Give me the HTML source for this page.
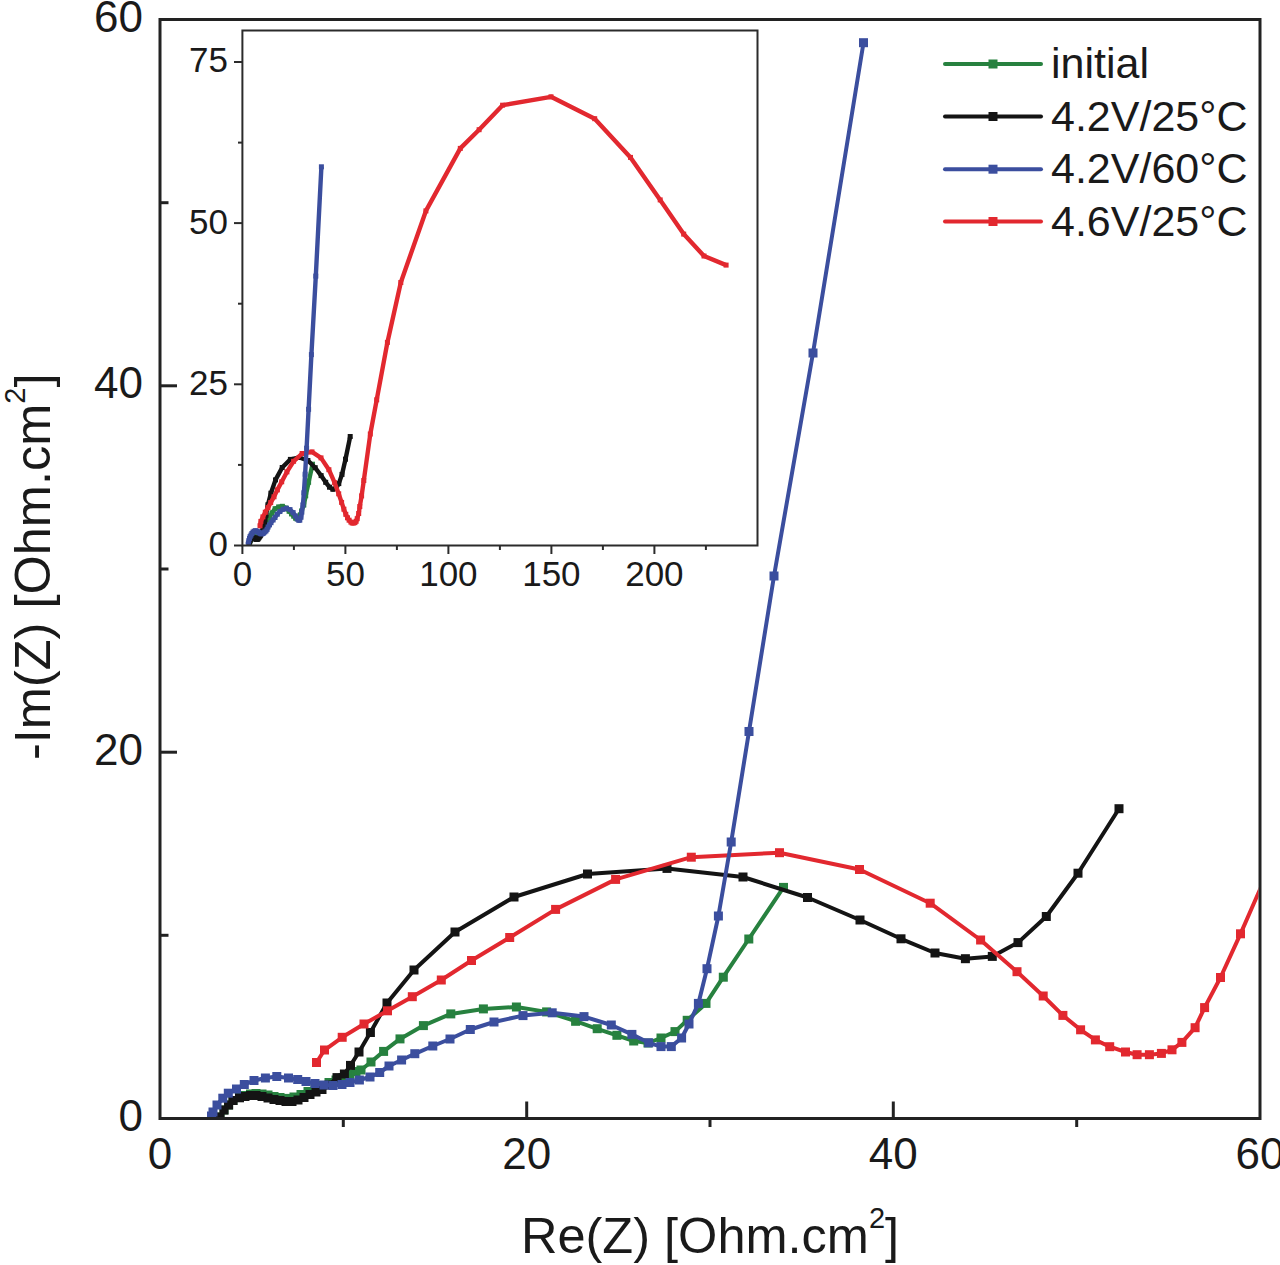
<!DOCTYPE html>
<html><head><meta charset="utf-8"><title>chart</title>
<style>html,body{margin:0;padding:0;background:#fff;width:1280px;height:1265px;overflow:hidden}svg{display:block}</style>
</head><body>
<svg width="1280" height="1265" viewBox="0 0 1280 1265">
<rect width="1280" height="1265" fill="#fff"/>
<defs>
<clipPath id="cm"><rect x="161.5" y="21" width="1097" height="1096"/></clipPath>
<clipPath id="ci"><rect x="243.4" y="31.5" width="513" height="513"/></clipPath>
</defs>
<g clip-path="url(#cm)"><g fill="#27813f"><polyline points="220.0,1117.0 224.0,1110.0 228.6,1105.0 233.0,1100.5 239.5,1097.5 245.0,1095.5 250.5,1094.0 256.0,1093.5 262.0,1094.0 268.0,1095.0 274.0,1096.5 280.0,1097.5 287.0,1098.4 294.0,1097.0 301.0,1094.5 308.0,1091.5 315.0,1088.5 322.0,1085.5 329.0,1082.5 336.0,1080.0 343.0,1077.5 350.0,1074.5 356.0,1071.5 361.0,1070.0 371.0,1062.0 383.6,1051.4 400.0,1038.9 423.4,1025.6 450.8,1013.9 483.4,1008.9 516.4,1007.0 546.6,1011.9 575.6,1021.2 597.2,1028.8 616.9,1035.3 633.8,1041.0 648.0,1043.0 661.0,1038.0 675.0,1031.6 687.2,1020.3 706.0,1003.4 723.2,977.2 748.8,939.0 783.5,887.4" fill="none" stroke="#27813f" stroke-width="4" stroke-linejoin="round"/><rect x="215.5" y="1112.5" width="9" height="9"/><rect x="219.5" y="1105.5" width="9" height="9"/><rect x="224.1" y="1100.5" width="9" height="9"/><rect x="228.5" y="1096.0" width="9" height="9"/><rect x="235.0" y="1093.0" width="9" height="9"/><rect x="240.5" y="1091.0" width="9" height="9"/><rect x="246.0" y="1089.5" width="9" height="9"/><rect x="251.5" y="1089.0" width="9" height="9"/><rect x="257.5" y="1089.5" width="9" height="9"/><rect x="263.5" y="1090.5" width="9" height="9"/><rect x="269.5" y="1092.0" width="9" height="9"/><rect x="275.5" y="1093.0" width="9" height="9"/><rect x="282.5" y="1093.9" width="9" height="9"/><rect x="289.5" y="1092.5" width="9" height="9"/><rect x="296.5" y="1090.0" width="9" height="9"/><rect x="303.5" y="1087.0" width="9" height="9"/><rect x="310.5" y="1084.0" width="9" height="9"/><rect x="317.5" y="1081.0" width="9" height="9"/><rect x="324.5" y="1078.0" width="9" height="9"/><rect x="331.5" y="1075.5" width="9" height="9"/><rect x="338.5" y="1073.0" width="9" height="9"/><rect x="345.5" y="1070.0" width="9" height="9"/><rect x="351.5" y="1067.0" width="9" height="9"/><rect x="356.5" y="1065.5" width="9" height="9"/><rect x="366.5" y="1057.5" width="9" height="9"/><rect x="379.1" y="1046.9" width="9" height="9"/><rect x="395.5" y="1034.4" width="9" height="9"/><rect x="418.9" y="1021.1" width="9" height="9"/><rect x="446.3" y="1009.4" width="9" height="9"/><rect x="478.9" y="1004.4" width="9" height="9"/><rect x="511.9" y="1002.5" width="9" height="9"/><rect x="542.1" y="1007.4" width="9" height="9"/><rect x="571.1" y="1016.8" width="9" height="9"/><rect x="592.7" y="1024.2" width="9" height="9"/><rect x="612.4" y="1030.8" width="9" height="9"/><rect x="629.2" y="1036.5" width="9" height="9"/><rect x="643.5" y="1038.5" width="9" height="9"/><rect x="656.5" y="1033.5" width="9" height="9"/><rect x="670.5" y="1027.1" width="9" height="9"/><rect x="682.7" y="1015.8" width="9" height="9"/><rect x="701.5" y="998.9" width="9" height="9"/><rect x="718.8" y="972.7" width="9" height="9"/><rect x="744.3" y="934.5" width="9" height="9"/><rect x="779.0" y="882.9" width="9" height="9"/></g><g fill="#141414"><polyline points="220.0,1117.0 224.0,1110.0 228.6,1105.0 233.0,1100.5 239.5,1097.8 245.0,1096.5 250.5,1095.5 256.0,1095.5 262.0,1096.5 268.0,1098.0 274.0,1099.5 280.0,1100.5 286.0,1101.5 292.0,1101.5 298.0,1100.0 304.0,1097.5 310.0,1094.5 316.0,1092.0 322.0,1089.5 329.0,1085.0 337.0,1077.6 344.4,1074.0 350.5,1065.4 359.0,1052.0 370.4,1032.5 387.0,1003.0 414.0,970.0 455.0,932.0 514.0,897.0 587.5,874.0 667.0,868.4 743.0,877.0 807.5,897.5 860.0,920.0 901.0,938.8 935.0,953.0 965.4,958.7 992.3,956.4 1018.0,942.6 1046.3,916.5 1078.0,873.2 1119.0,808.8" fill="none" stroke="#141414" stroke-width="4" stroke-linejoin="round"/><rect x="215.5" y="1112.5" width="9" height="9"/><rect x="219.5" y="1105.5" width="9" height="9"/><rect x="224.1" y="1100.5" width="9" height="9"/><rect x="228.5" y="1096.0" width="9" height="9"/><rect x="235.0" y="1093.3" width="9" height="9"/><rect x="240.5" y="1092.0" width="9" height="9"/><rect x="246.0" y="1091.0" width="9" height="9"/><rect x="251.5" y="1091.0" width="9" height="9"/><rect x="257.5" y="1092.0" width="9" height="9"/><rect x="263.5" y="1093.5" width="9" height="9"/><rect x="269.5" y="1095.0" width="9" height="9"/><rect x="275.5" y="1096.0" width="9" height="9"/><rect x="281.5" y="1097.0" width="9" height="9"/><rect x="287.5" y="1097.0" width="9" height="9"/><rect x="293.5" y="1095.5" width="9" height="9"/><rect x="299.5" y="1093.0" width="9" height="9"/><rect x="305.5" y="1090.0" width="9" height="9"/><rect x="311.5" y="1087.5" width="9" height="9"/><rect x="317.5" y="1085.0" width="9" height="9"/><rect x="324.5" y="1080.5" width="9" height="9"/><rect x="332.5" y="1073.1" width="9" height="9"/><rect x="339.9" y="1069.5" width="9" height="9"/><rect x="346.0" y="1060.9" width="9" height="9"/><rect x="354.5" y="1047.5" width="9" height="9"/><rect x="365.9" y="1028.0" width="9" height="9"/><rect x="382.5" y="998.5" width="9" height="9"/><rect x="409.5" y="965.5" width="9" height="9"/><rect x="450.5" y="927.5" width="9" height="9"/><rect x="509.5" y="892.5" width="9" height="9"/><rect x="583.0" y="869.5" width="9" height="9"/><rect x="662.5" y="863.9" width="9" height="9"/><rect x="738.5" y="872.5" width="9" height="9"/><rect x="803.0" y="893.0" width="9" height="9"/><rect x="855.5" y="915.5" width="9" height="9"/><rect x="896.5" y="934.3" width="9" height="9"/><rect x="930.5" y="948.5" width="9" height="9"/><rect x="960.9" y="954.2" width="9" height="9"/><rect x="987.8" y="951.9" width="9" height="9"/><rect x="1013.5" y="938.1" width="9" height="9"/><rect x="1041.8" y="912.0" width="9" height="9"/><rect x="1073.5" y="868.7" width="9" height="9"/><rect x="1114.5" y="804.2" width="9" height="9"/></g><g fill="#e2282f"><polyline points="316.5,1062.5 324.5,1050.0 342.2,1037.3 364.0,1024.0 387.5,1010.8 412.3,996.7 441.3,980.0 471.5,960.5 509.7,937.5 555.6,909.4 615.6,879.4 691.3,857.2 779.5,852.7 859.5,869.5 930.2,903.2 980.6,940.0 1017.0,971.7 1043.2,996.0 1062.9,1015.4 1080.6,1029.8 1095.4,1039.9 1109.7,1046.7 1125.5,1052.0 1137.1,1054.7 1149.4,1054.7 1161.4,1053.4 1172.0,1049.8 1181.9,1042.4 1195.1,1027.7 1204.6,1007.6 1220.5,977.5 1240.5,933.8 1298.5,801.6" fill="none" stroke="#e2282f" stroke-width="4" stroke-linejoin="round"/><rect x="312.0" y="1058.0" width="9" height="9"/><rect x="320.0" y="1045.5" width="9" height="9"/><rect x="337.7" y="1032.8" width="9" height="9"/><rect x="359.5" y="1019.5" width="9" height="9"/><rect x="383.0" y="1006.3" width="9" height="9"/><rect x="407.8" y="992.2" width="9" height="9"/><rect x="436.8" y="975.5" width="9" height="9"/><rect x="467.0" y="956.0" width="9" height="9"/><rect x="505.2" y="933.0" width="9" height="9"/><rect x="551.1" y="904.9" width="9" height="9"/><rect x="611.1" y="874.9" width="9" height="9"/><rect x="686.8" y="852.7" width="9" height="9"/><rect x="775.0" y="848.2" width="9" height="9"/><rect x="855.0" y="865.0" width="9" height="9"/><rect x="925.7" y="898.7" width="9" height="9"/><rect x="976.1" y="935.5" width="9" height="9"/><rect x="1012.5" y="967.2" width="9" height="9"/><rect x="1038.7" y="991.5" width="9" height="9"/><rect x="1058.4" y="1010.9" width="9" height="9"/><rect x="1076.1" y="1025.3" width="9" height="9"/><rect x="1090.9" y="1035.4" width="9" height="9"/><rect x="1105.2" y="1042.2" width="9" height="9"/><rect x="1121.0" y="1047.5" width="9" height="9"/><rect x="1132.6" y="1050.2" width="9" height="9"/><rect x="1144.9" y="1050.2" width="9" height="9"/><rect x="1156.9" y="1048.9" width="9" height="9"/><rect x="1167.5" y="1045.3" width="9" height="9"/><rect x="1177.4" y="1037.9" width="9" height="9"/><rect x="1190.6" y="1023.2" width="9" height="9"/><rect x="1200.1" y="1003.1" width="9" height="9"/><rect x="1216.0" y="973.0" width="9" height="9"/><rect x="1236.0" y="929.3" width="9" height="9"/><rect x="1294.0" y="797.1" width="9" height="9"/></g><g fill="#3b4e9e"><polyline points="211.5,1116.0 213.0,1112.0 217.0,1105.0 222.8,1098.2 228.3,1093.2 236.5,1089.0 244.3,1084.5 254.0,1080.5 265.4,1078.0 276.8,1076.5 288.5,1078.0 297.7,1079.5 306.0,1081.5 315.0,1083.5 324.0,1085.0 333.0,1085.5 342.0,1084.5 350.0,1082.5 359.4,1080.0 370.0,1077.0 379.7,1072.5 389.0,1066.0 401.6,1060.0 414.8,1053.8 432.8,1046.0 450.0,1039.0 470.3,1029.5 494.0,1022.0 523.0,1015.6 552.2,1012.8 584.0,1016.6 611.2,1025.0 631.9,1034.4 648.8,1042.8 661.0,1046.6 671.2,1046.6 681.6,1038.0 689.0,1024.0 698.4,1003.4 707.0,968.7 718.4,916.0 731.2,842.0 749.0,731.5 774.0,576.0 813.0,353.0 863.5,42.7" fill="none" stroke="#3b4e9e" stroke-width="4" stroke-linejoin="round"/><rect x="207.0" y="1111.5" width="9" height="9"/><rect x="208.5" y="1107.5" width="9" height="9"/><rect x="212.5" y="1100.5" width="9" height="9"/><rect x="218.3" y="1093.7" width="9" height="9"/><rect x="223.8" y="1088.7" width="9" height="9"/><rect x="232.0" y="1084.5" width="9" height="9"/><rect x="239.8" y="1080.0" width="9" height="9"/><rect x="249.5" y="1076.0" width="9" height="9"/><rect x="260.9" y="1073.5" width="9" height="9"/><rect x="272.3" y="1072.0" width="9" height="9"/><rect x="284.0" y="1073.5" width="9" height="9"/><rect x="293.2" y="1075.0" width="9" height="9"/><rect x="301.5" y="1077.0" width="9" height="9"/><rect x="310.5" y="1079.0" width="9" height="9"/><rect x="319.5" y="1080.5" width="9" height="9"/><rect x="328.5" y="1081.0" width="9" height="9"/><rect x="337.5" y="1080.0" width="9" height="9"/><rect x="345.5" y="1078.0" width="9" height="9"/><rect x="354.9" y="1075.5" width="9" height="9"/><rect x="365.5" y="1072.5" width="9" height="9"/><rect x="375.2" y="1068.0" width="9" height="9"/><rect x="384.5" y="1061.5" width="9" height="9"/><rect x="397.1" y="1055.5" width="9" height="9"/><rect x="410.3" y="1049.2" width="9" height="9"/><rect x="428.3" y="1041.5" width="9" height="9"/><rect x="445.5" y="1034.5" width="9" height="9"/><rect x="465.8" y="1025.0" width="9" height="9"/><rect x="489.5" y="1017.5" width="9" height="9"/><rect x="518.5" y="1011.1" width="9" height="9"/><rect x="547.7" y="1008.3" width="9" height="9"/><rect x="579.5" y="1012.1" width="9" height="9"/><rect x="606.8" y="1020.5" width="9" height="9"/><rect x="627.4" y="1029.9" width="9" height="9"/><rect x="644.2" y="1038.3" width="9" height="9"/><rect x="656.5" y="1042.1" width="9" height="9"/><rect x="666.8" y="1042.1" width="9" height="9"/><rect x="677.1" y="1033.5" width="9" height="9"/><rect x="684.5" y="1019.5" width="9" height="9"/><rect x="693.9" y="998.9" width="9" height="9"/><rect x="702.5" y="964.2" width="9" height="9"/><rect x="713.9" y="911.5" width="9" height="9"/><rect x="726.7" y="837.5" width="9" height="9"/><rect x="744.5" y="727.0" width="9" height="9"/><rect x="769.5" y="571.5" width="9" height="9"/><rect x="808.5" y="348.5" width="9" height="9"/><rect x="859.0" y="38.2" width="9" height="9"/></g></g>
<rect x="243.4" y="31.5" width="513.1" height="513" fill="#fff"/>
<g clip-path="url(#ci)"><g fill="#27813f"><polyline points="249.1,545.0 249.6,542.5 250.1,540.7 250.6,539.2 251.3,538.1 252.0,537.4 252.6,536.9 253.2,536.7 253.9,536.9 254.5,537.2 255.2,537.8 255.9,538.1 256.7,538.4 257.5,537.9 258.2,537.1 259.0,536.0 259.8,534.9 260.6,533.9 261.4,532.8 262.2,531.9 263.0,531.1 263.7,530.0 264.4,529.0 265.0,528.4 266.1,525.6 267.5,521.9 269.4,517.5 272.0,512.8 275.1,508.7 278.7,506.9 282.4,506.3 285.8,508.0 289.1,511.3 291.5,513.9 293.7,516.2 295.6,518.2 297.2,518.9 298.7,517.2 300.3,514.9 301.6,510.9 303.8,505.0 305.7,495.8 308.6,482.3 312.5,464.2" fill="none" stroke="#27813f" stroke-width="4.4" stroke-linejoin="round"/><rect x="246.6" y="542.5" width="5" height="5"/><rect x="247.1" y="540.0" width="5" height="5"/><rect x="247.6" y="538.2" width="5" height="5"/><rect x="248.1" y="536.7" width="5" height="5"/><rect x="248.8" y="535.6" width="5" height="5"/><rect x="249.5" y="534.9" width="5" height="5"/><rect x="250.1" y="534.4" width="5" height="5"/><rect x="250.7" y="534.2" width="5" height="5"/><rect x="251.4" y="534.4" width="5" height="5"/><rect x="252.0" y="534.7" width="5" height="5"/><rect x="252.7" y="535.3" width="5" height="5"/><rect x="253.4" y="535.6" width="5" height="5"/><rect x="254.2" y="535.9" width="5" height="5"/><rect x="255.0" y="535.4" width="5" height="5"/><rect x="255.7" y="534.6" width="5" height="5"/><rect x="256.5" y="533.5" width="5" height="5"/><rect x="257.3" y="532.4" width="5" height="5"/><rect x="258.1" y="531.4" width="5" height="5"/><rect x="258.9" y="530.3" width="5" height="5"/><rect x="259.7" y="529.4" width="5" height="5"/><rect x="260.5" y="528.6" width="5" height="5"/><rect x="261.2" y="527.5" width="5" height="5"/><rect x="261.9" y="526.5" width="5" height="5"/><rect x="262.5" y="525.9" width="5" height="5"/><rect x="263.6" y="523.1" width="5" height="5"/><rect x="265.0" y="519.4" width="5" height="5"/><rect x="266.9" y="515.0" width="5" height="5"/><rect x="269.5" y="510.3" width="5" height="5"/><rect x="272.6" y="506.2" width="5" height="5"/><rect x="276.2" y="504.4" width="5" height="5"/><rect x="279.9" y="503.8" width="5" height="5"/><rect x="283.3" y="505.5" width="5" height="5"/><rect x="286.6" y="508.8" width="5" height="5"/><rect x="289.0" y="511.4" width="5" height="5"/><rect x="291.2" y="513.7" width="5" height="5"/><rect x="293.1" y="515.7" width="5" height="5"/><rect x="294.7" y="516.4" width="5" height="5"/><rect x="296.2" y="514.7" width="5" height="5"/><rect x="297.8" y="512.4" width="5" height="5"/><rect x="299.1" y="508.4" width="5" height="5"/><rect x="301.3" y="502.5" width="5" height="5"/><rect x="303.2" y="493.3" width="5" height="5"/><rect x="306.1" y="479.8" width="5" height="5"/><rect x="310.0" y="461.7" width="5" height="5"/></g><g fill="#141414"><polyline points="249.1,545.0 249.6,542.5 250.1,540.7 250.6,539.2 251.3,538.2 252.0,537.8 252.6,537.4 253.2,537.4 253.9,537.8 254.5,538.3 255.2,538.8 255.9,539.2 256.6,539.5 257.2,539.5 257.9,539.0 258.6,538.1 259.3,537.1 259.9,536.2 260.6,535.3 261.4,533.7 262.3,531.1 263.1,529.8 263.8,526.8 264.8,522.1 266.0,515.2 267.9,504.8 270.9,493.2 275.5,479.9 282.2,467.5 290.4,459.4 299.4,457.5 307.9,460.5 315.2,467.7 321.1,475.6 325.7,482.3 329.5,487.2 332.9,489.3 335.9,488.4 338.8,483.6 342.0,474.4 345.5,459.2 350.2,436.5" fill="none" stroke="#141414" stroke-width="4.4" stroke-linejoin="round"/><rect x="246.6" y="542.5" width="5" height="5"/><rect x="247.1" y="540.0" width="5" height="5"/><rect x="247.6" y="538.2" width="5" height="5"/><rect x="248.1" y="536.7" width="5" height="5"/><rect x="248.8" y="535.7" width="5" height="5"/><rect x="249.5" y="535.3" width="5" height="5"/><rect x="250.1" y="534.9" width="5" height="5"/><rect x="250.7" y="534.9" width="5" height="5"/><rect x="251.4" y="535.3" width="5" height="5"/><rect x="252.0" y="535.8" width="5" height="5"/><rect x="252.7" y="536.3" width="5" height="5"/><rect x="253.4" y="536.7" width="5" height="5"/><rect x="254.1" y="537.0" width="5" height="5"/><rect x="254.7" y="537.0" width="5" height="5"/><rect x="255.4" y="536.5" width="5" height="5"/><rect x="256.1" y="535.6" width="5" height="5"/><rect x="256.8" y="534.6" width="5" height="5"/><rect x="257.4" y="533.7" width="5" height="5"/><rect x="258.1" y="532.8" width="5" height="5"/><rect x="258.9" y="531.2" width="5" height="5"/><rect x="259.8" y="528.6" width="5" height="5"/><rect x="260.6" y="527.3" width="5" height="5"/><rect x="261.3" y="524.3" width="5" height="5"/><rect x="262.3" y="519.6" width="5" height="5"/><rect x="263.5" y="512.7" width="5" height="5"/><rect x="265.4" y="502.3" width="5" height="5"/><rect x="268.4" y="490.7" width="5" height="5"/><rect x="273.0" y="477.4" width="5" height="5"/><rect x="279.7" y="465.0" width="5" height="5"/><rect x="287.9" y="456.9" width="5" height="5"/><rect x="296.9" y="455.0" width="5" height="5"/><rect x="305.4" y="458.0" width="5" height="5"/><rect x="312.7" y="465.2" width="5" height="5"/><rect x="318.6" y="473.1" width="5" height="5"/><rect x="323.2" y="479.8" width="5" height="5"/><rect x="327.0" y="484.7" width="5" height="5"/><rect x="330.4" y="486.8" width="5" height="5"/><rect x="333.4" y="485.9" width="5" height="5"/><rect x="336.3" y="481.1" width="5" height="5"/><rect x="339.5" y="471.9" width="5" height="5"/><rect x="343.0" y="456.7" width="5" height="5"/><rect x="347.7" y="434.0" width="5" height="5"/></g><g fill="#e2282f"><polyline points="260.0,525.8 260.9,521.4 262.9,516.9 265.3,512.2 268.0,507.6 270.7,502.6 274.0,496.8 277.4,489.9 281.7,481.8 286.9,471.9 293.6,461.3 302.1,453.5 312.0,451.9 321.0,457.9 328.9,469.7 334.6,482.7 338.7,493.8 341.6,502.4 343.9,509.2 345.8,514.3 347.5,517.8 349.1,520.2 350.9,522.1 352.2,523.0 353.6,523.0 354.9,522.6 356.1,521.3 357.2,518.7 358.7,513.5 359.8,506.5 361.6,495.9 363.8,480.5 370.3,434.0 376.7,399.8 387.4,342.4 400.8,282.5 425.9,210.9 460.3,148.4 479.1,129.7 502.6,105.2 551.0,96.8 594.7,118.7 630.5,157.4 660.2,199.9 683.7,234.1 704.0,256.0 726.1,265.1" fill="none" stroke="#e2282f" stroke-width="4.4" stroke-linejoin="round"/><rect x="257.5" y="523.3" width="5" height="5"/><rect x="258.4" y="518.9" width="5" height="5"/><rect x="260.4" y="514.4" width="5" height="5"/><rect x="262.8" y="509.7" width="5" height="5"/><rect x="265.5" y="505.1" width="5" height="5"/><rect x="268.2" y="500.1" width="5" height="5"/><rect x="271.5" y="494.3" width="5" height="5"/><rect x="274.9" y="487.4" width="5" height="5"/><rect x="279.2" y="479.3" width="5" height="5"/><rect x="284.4" y="469.4" width="5" height="5"/><rect x="291.1" y="458.8" width="5" height="5"/><rect x="299.6" y="451.0" width="5" height="5"/><rect x="309.5" y="449.4" width="5" height="5"/><rect x="318.5" y="455.4" width="5" height="5"/><rect x="326.4" y="467.2" width="5" height="5"/><rect x="332.1" y="480.2" width="5" height="5"/><rect x="336.2" y="491.3" width="5" height="5"/><rect x="339.1" y="499.9" width="5" height="5"/><rect x="341.4" y="506.7" width="5" height="5"/><rect x="343.3" y="511.8" width="5" height="5"/><rect x="345.0" y="515.3" width="5" height="5"/><rect x="346.6" y="517.7" width="5" height="5"/><rect x="348.4" y="519.6" width="5" height="5"/><rect x="349.7" y="520.5" width="5" height="5"/><rect x="351.1" y="520.5" width="5" height="5"/><rect x="352.4" y="520.1" width="5" height="5"/><rect x="353.6" y="518.8" width="5" height="5"/><rect x="354.7" y="516.2" width="5" height="5"/><rect x="356.2" y="511.0" width="5" height="5"/><rect x="357.3" y="504.0" width="5" height="5"/><rect x="359.1" y="493.4" width="5" height="5"/><rect x="361.3" y="478.0" width="5" height="5"/><rect x="367.8" y="431.5" width="5" height="5"/><rect x="374.2" y="397.3" width="5" height="5"/><rect x="384.9" y="339.9" width="5" height="5"/><rect x="398.3" y="280.0" width="5" height="5"/><rect x="423.4" y="208.4" width="5" height="5"/><rect x="457.8" y="145.9" width="5" height="5"/><rect x="476.6" y="127.2" width="5" height="5"/><rect x="500.1" y="102.7" width="5" height="5"/><rect x="548.5" y="94.3" width="5" height="5"/><rect x="592.2" y="116.2" width="5" height="5"/><rect x="628.0" y="154.9" width="5" height="5"/><rect x="657.7" y="197.4" width="5" height="5"/><rect x="681.2" y="231.6" width="5" height="5"/><rect x="701.5" y="253.5" width="5" height="5"/><rect x="723.6" y="262.6" width="5" height="5"/></g><g fill="#3b4e9e"><polyline points="248.2,544.6 248.4,543.2 248.8,540.7 249.5,538.4 250.1,536.6 251.0,535.1 251.9,533.5 253.0,532.1 254.2,531.2 255.5,530.7 256.8,531.2 257.9,531.8 258.8,532.5 259.8,533.2 260.8,533.7 261.8,533.9 262.9,533.5 263.7,532.8 264.8,531.9 266.0,530.9 267.1,529.3 268.1,527.0 269.5,524.9 271.0,522.7 273.1,520.0 275.0,517.5 277.3,514.2 279.9,511.5 283.2,509.3 286.5,508.3 290.0,509.6 293.1,512.6 295.4,515.9 297.3,518.9 298.7,520.2 299.8,520.2 301.0,517.2 301.8,512.2 302.9,505.0 303.9,492.8 305.1,474.2 306.6,448.2 308.6,409.3 311.4,354.6 315.8,276.1 321.4,166.8" fill="none" stroke="#3b4e9e" stroke-width="4.4" stroke-linejoin="round"/><rect x="245.7" y="542.1" width="5" height="5"/><rect x="245.9" y="540.7" width="5" height="5"/><rect x="246.3" y="538.2" width="5" height="5"/><rect x="247.0" y="535.9" width="5" height="5"/><rect x="247.6" y="534.1" width="5" height="5"/><rect x="248.5" y="532.6" width="5" height="5"/><rect x="249.4" y="531.0" width="5" height="5"/><rect x="250.5" y="529.6" width="5" height="5"/><rect x="251.7" y="528.7" width="5" height="5"/><rect x="253.0" y="528.2" width="5" height="5"/><rect x="254.3" y="528.7" width="5" height="5"/><rect x="255.4" y="529.3" width="5" height="5"/><rect x="256.3" y="530.0" width="5" height="5"/><rect x="257.3" y="530.7" width="5" height="5"/><rect x="258.3" y="531.2" width="5" height="5"/><rect x="259.3" y="531.4" width="5" height="5"/><rect x="260.4" y="531.0" width="5" height="5"/><rect x="261.2" y="530.3" width="5" height="5"/><rect x="262.3" y="529.4" width="5" height="5"/><rect x="263.5" y="528.4" width="5" height="5"/><rect x="264.6" y="526.8" width="5" height="5"/><rect x="265.6" y="524.5" width="5" height="5"/><rect x="267.0" y="522.4" width="5" height="5"/><rect x="268.5" y="520.2" width="5" height="5"/><rect x="270.6" y="517.5" width="5" height="5"/><rect x="272.5" y="515.0" width="5" height="5"/><rect x="274.8" y="511.7" width="5" height="5"/><rect x="277.4" y="509.0" width="5" height="5"/><rect x="280.7" y="506.8" width="5" height="5"/><rect x="284.0" y="505.8" width="5" height="5"/><rect x="287.5" y="507.1" width="5" height="5"/><rect x="290.6" y="510.1" width="5" height="5"/><rect x="292.9" y="513.4" width="5" height="5"/><rect x="294.8" y="516.4" width="5" height="5"/><rect x="296.2" y="517.7" width="5" height="5"/><rect x="297.3" y="517.7" width="5" height="5"/><rect x="298.5" y="514.7" width="5" height="5"/><rect x="299.3" y="509.7" width="5" height="5"/><rect x="300.4" y="502.5" width="5" height="5"/><rect x="301.4" y="490.3" width="5" height="5"/><rect x="302.6" y="471.7" width="5" height="5"/><rect x="304.1" y="445.7" width="5" height="5"/><rect x="306.1" y="406.8" width="5" height="5"/><rect x="308.9" y="352.1" width="5" height="5"/><rect x="313.3" y="273.6" width="5" height="5"/><rect x="318.9" y="164.3" width="5" height="5"/></g></g>
<rect x="242.4" y="30.5" width="515.1" height="515" fill="none" stroke="#2b2b2b" stroke-width="2"/>
<g stroke="#2b2b2b" stroke-width="2"><line x1="234" y1="545.5" x2="242.4" y2="545.5"/><line x1="234" y1="384.3" x2="242.4" y2="384.3"/><line x1="234" y1="223.1" x2="242.4" y2="223.1"/><line x1="234" y1="62.0" x2="242.4" y2="62.0"/><line x1="238" y1="464.9" x2="242.4" y2="464.9"/><line x1="238" y1="303.7" x2="242.4" y2="303.7"/><line x1="238" y1="142.6" x2="242.4" y2="142.6"/><line x1="242.4" y1="545.5" x2="242.4" y2="554"/><line x1="345.4" y1="545.5" x2="345.4" y2="554"/><line x1="448.4" y1="545.5" x2="448.4" y2="554"/><line x1="551.4" y1="545.5" x2="551.4" y2="554"/><line x1="654.4" y1="545.5" x2="654.4" y2="554"/><line x1="293.9" y1="545.5" x2="293.9" y2="550"/><line x1="396.9" y1="545.5" x2="396.9" y2="550"/><line x1="499.9" y1="545.5" x2="499.9" y2="550"/><line x1="602.9" y1="545.5" x2="602.9" y2="550"/><line x1="705.9" y1="545.5" x2="705.9" y2="550"/></g>
<rect x="160" y="19.5" width="1100" height="1099" fill="none" stroke="#222" stroke-width="3"/>
<g stroke="#222" stroke-width="3"><line x1="160" y1="752.2" x2="177" y2="752.2"/><line x1="526.7" y1="1118.5" x2="526.7" y2="1101.5"/><line x1="160" y1="385.8" x2="177" y2="385.8"/><line x1="893.3" y1="1118.5" x2="893.3" y2="1101.5"/><line x1="160" y1="935.3" x2="168.5" y2="935.3"/><line x1="343.3" y1="1118.5" x2="343.3" y2="1127"/><line x1="160" y1="569.0" x2="168.5" y2="569.0"/><line x1="710.0" y1="1118.5" x2="710.0" y2="1127"/><line x1="160" y1="202.7" x2="168.5" y2="202.7"/><line x1="1076.7" y1="1118.5" x2="1076.7" y2="1127"/></g>
<g font-family='"Liberation Sans", sans-serif' font-size="44" fill="#1a1a1a"><text x="143" y="1130.9" text-anchor="end">0</text><text x="160.0" y="1169" text-anchor="middle">0</text><text x="143" y="764.6" text-anchor="end">20</text><text x="526.7" y="1169" text-anchor="middle">20</text><text x="143" y="398.2" text-anchor="end">40</text><text x="893.3" y="1169" text-anchor="middle">40</text><text x="143" y="31.9" text-anchor="end">60</text><text x="1260.0" y="1169" text-anchor="middle">60</text></g>
<g font-family='"Liberation Sans", sans-serif' font-size="35" fill="#1a1a1a"><text x="228" y="555.9" text-anchor="end">0</text><text x="228" y="394.7" text-anchor="end">25</text><text x="228" y="233.5" text-anchor="end">50</text><text x="228" y="72.4" text-anchor="end">75</text><text x="242.4" y="586" text-anchor="middle">0</text><text x="345.4" y="586" text-anchor="middle">50</text><text x="448.4" y="586" text-anchor="middle">100</text><text x="551.4" y="586" text-anchor="middle">150</text><text x="654.4" y="586" text-anchor="middle">200</text></g>
<g font-family='"Liberation Sans", sans-serif' font-size="43" fill="#1a1a1a"><line x1="945" y1="64.0" x2="1041" y2="64.0" stroke="#27813f" stroke-width="4" stroke-linecap="round"/><rect x="988.5" y="59.5" width="9" height="9" fill="#27813f"/><text x="1051" y="78.0">initial</text><line x1="945" y1="116.5" x2="1041" y2="116.5" stroke="#141414" stroke-width="4" stroke-linecap="round"/><rect x="988.5" y="112.0" width="9" height="9" fill="#141414"/><text x="1051" y="130.5">4.2V/25°C</text><line x1="945" y1="169.2" x2="1041" y2="169.2" stroke="#3b4e9e" stroke-width="4" stroke-linecap="round"/><rect x="988.5" y="164.7" width="9" height="9" fill="#3b4e9e"/><text x="1051" y="183.2">4.2V/60°C</text><line x1="945" y1="221.5" x2="1041" y2="221.5" stroke="#e2282f" stroke-width="4" stroke-linecap="round"/><rect x="988.5" y="217.0" width="9" height="9" fill="#e2282f"/><text x="1051" y="235.5">4.6V/25°C</text></g>
<text x="521" y="1252.5" font-family='"Liberation Sans", sans-serif' font-size="50.5" fill="#1a1a1a">Re(Z) [Ohm.cm<tspan font-size="29" dy="-25">2</tspan><tspan dy="25">]</tspan></text>
<text transform="translate(49.5,760) rotate(-90)" font-family='"Liberation Sans", sans-serif' font-size="50.5" fill="#1a1a1a">-Im(Z) [Ohm.cm<tspan font-size="29" dy="-25">2</tspan><tspan dy="25">]</tspan></text>
</svg>
</body></html>
